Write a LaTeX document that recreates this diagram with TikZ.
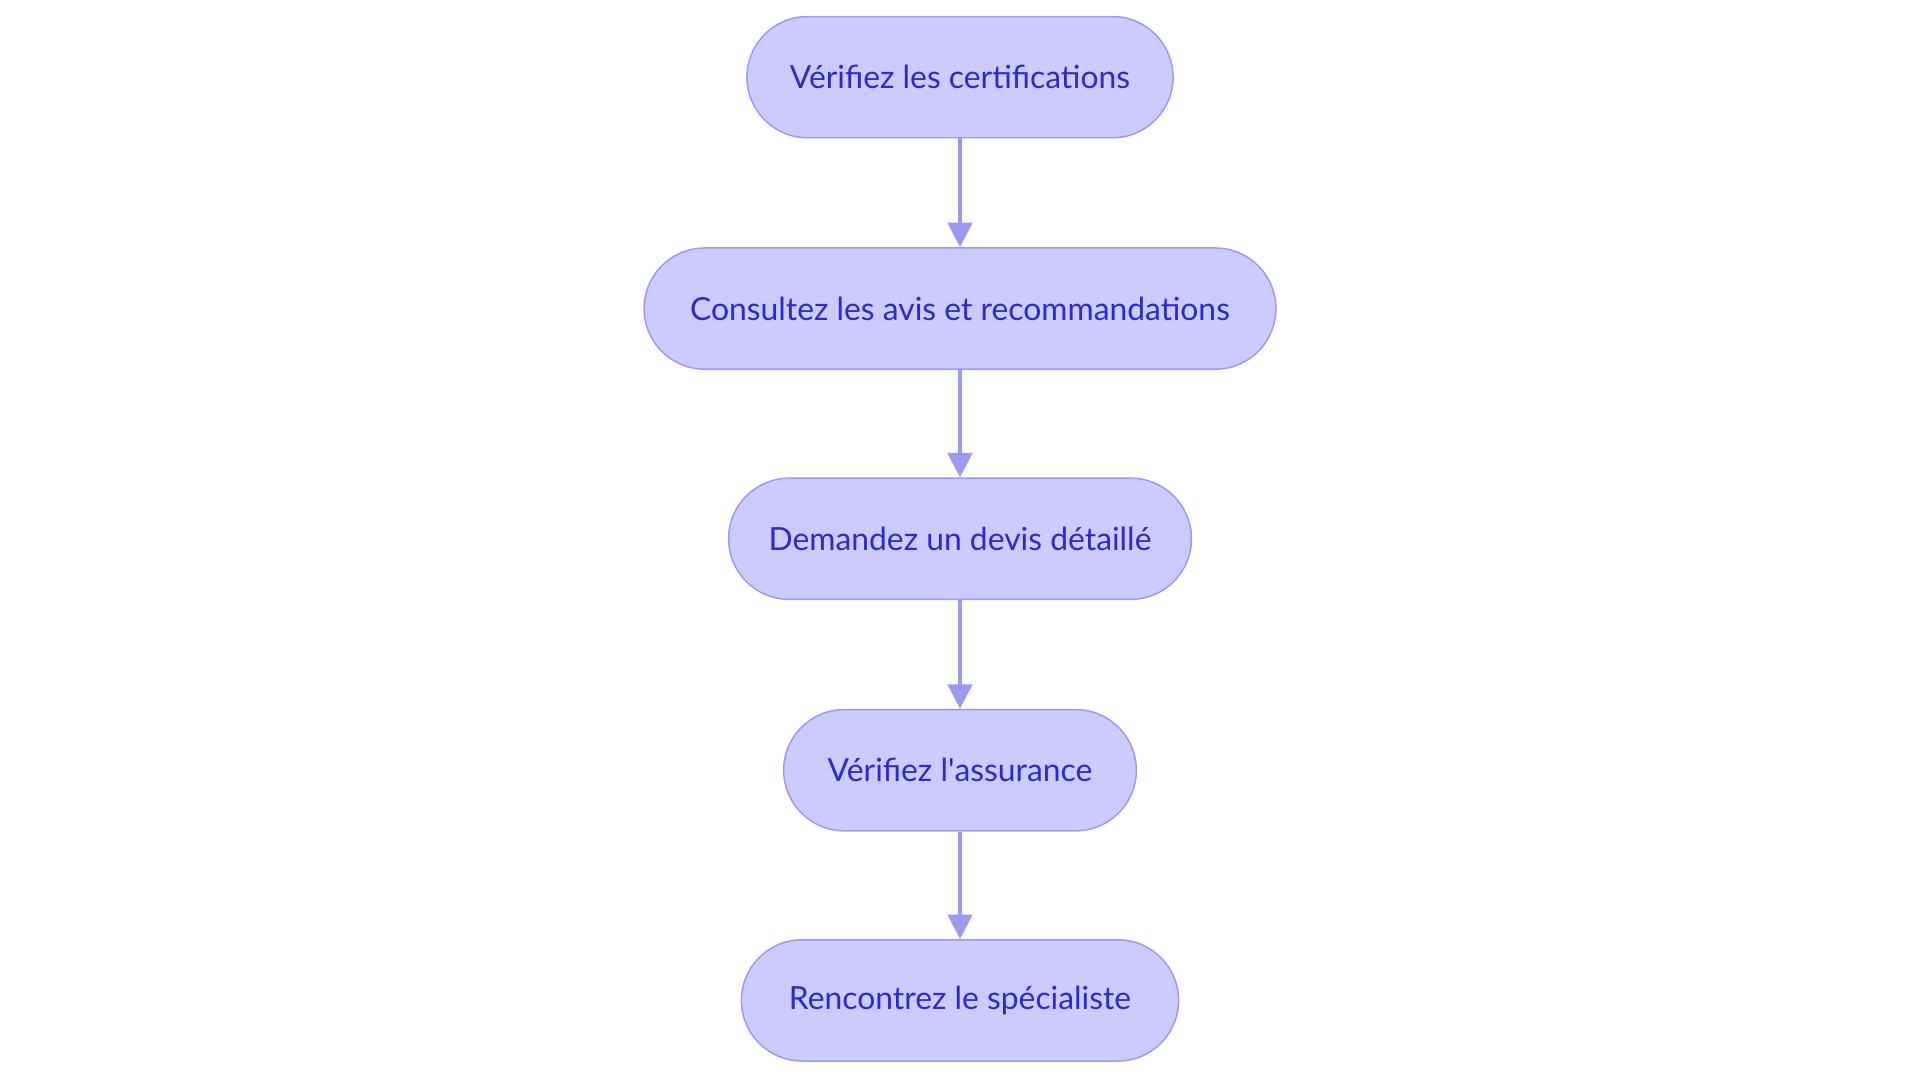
\documentclass[tikz,border=0pt]{standalone}
\usepackage{fontspec}
\setmainfont{Lato}
\usetikzlibrary{arrows.meta}
\definecolor{nfill}{HTML}{CBCBFF}
\definecolor{nborder}{HTML}{9999EE}
\definecolor{ntext}{HTML}{2B2BCC}
\definecolor{arr}{HTML}{9A9AEE}
\tikzset{
  pill/.style={draw=nborder, fill=nfill, text=ntext, line width=0.6pt,
    minimum height=49.5pt, rounded corners=24.75pt, inner sep=0pt,
    font=\fontsize{13}{15}\selectfont},
  conn/.style={draw=arr, line width=1.3pt, -{Triangle[length=10pt,width=10pt]}}
}
\begin{document}
\begin{tikzpicture}[x=0.5pt,y=-0.5pt]
\useasboundingbox (0,0) rectangle (1568,885);
\node[pill, minimum width=174pt] (a) at (784,63) {Vérifiez les certifications};
\node[pill, minimum width=258pt] (b) at (784,252) {Consultez les avis et recommandations};
\node[pill, minimum width=189pt] (c) at (784,440) {Demandez un devis détaillé};
\node[pill, minimum width=144pt] (d) at (784,629) {Vérifiez l\textquotesingle assurance};
\node[pill, minimum width=178.5pt] (e) at (784,817) {Rencontrez le spécialiste};
\draw[conn] (a) -- (b);
\draw[conn] (b) -- (c);
\draw[conn] (c) -- (d);
\draw[conn] (d) -- (e);
\end{tikzpicture}
\end{document}
